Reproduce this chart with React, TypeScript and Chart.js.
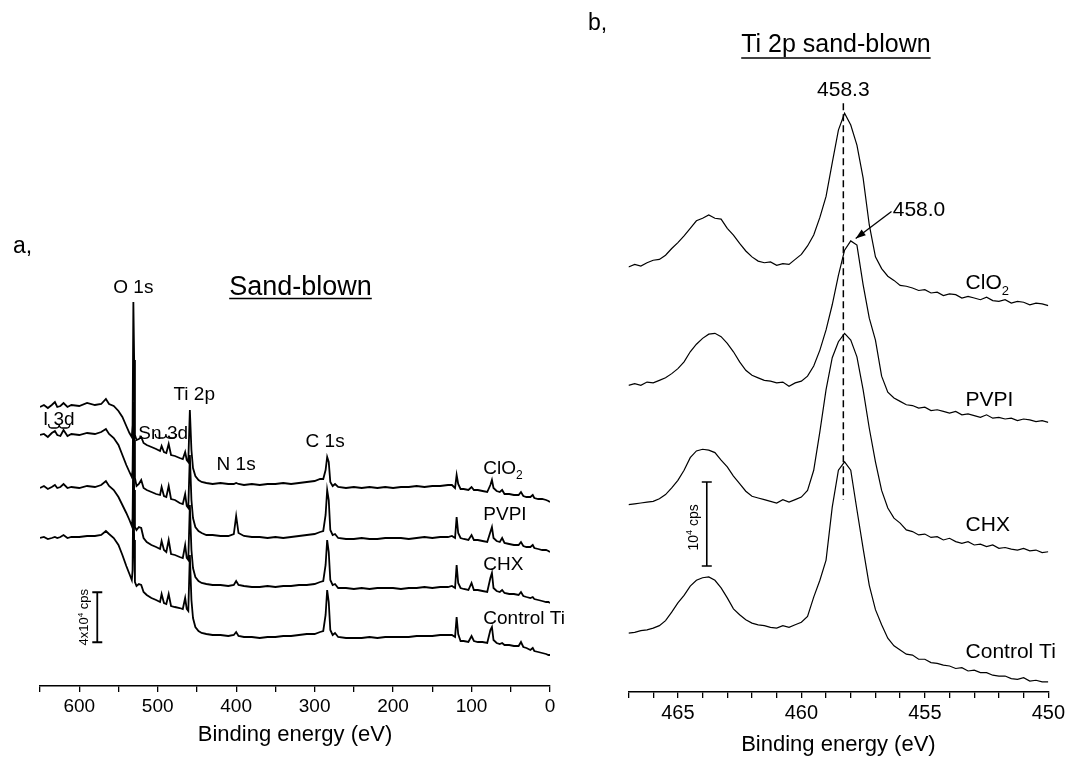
import React, { useEffect, useRef } from "react";
import { Chart, registerables } from "chart.js";

Chart.register(...registerables);

const FONT = "'Liberation Sans', Arial, Helvetica, sans-serif";

// ---------- Panel a: survey spectra (binding energy, eV) ----------
const surveyEnergy = [
  650, 645, 640, 635, 631, 628, 624, 620, 615, 610,
  600, 590, 580, 572, 566, 562, 556, 550, 545, 540,
  536, 533, 532, 531, 530, 529, 527, 524, 521, 518,
  514, 508, 502, 497, 495, 492, 489, 486, 483, 478,
  472, 468, 465, 463, 461, 459, 457, 455, 452, 448,
  444, 438, 430, 420, 410, 403, 400, 397, 390, 380,
  370, 360, 350, 340, 330, 320, 310, 300, 293, 289,
  286, 284, 282, 280, 277, 274, 270, 260, 250, 240,
  230, 220, 210, 200, 190, 180, 170, 160, 150, 140,
  130, 125, 121, 119, 117, 114, 110, 104, 100, 97,
  92, 86, 80, 76, 74, 72, 68, 64, 61, 58,
  52, 46, 40, 37, 34, 30, 25, 22, 20, 15,
  10, 5, 2, 0,
];

// intensities in 10^3 cps (stacked, offset as in the figure)
const surveyClO2 = [
  223.2, 224.8, 222.4, 224.8, 227.2, 223.2, 224.0, 226.4, 223.2, 224.8,
  224.0, 226.4, 224.8, 225.6, 229.6, 225.6, 224.0, 220.0, 215.2, 208.0,
  202.4, 199.2, 208.8, 307.2, 260.8, 200.8, 196.8, 197.6, 199.2, 194.4,
  192.8, 191.2, 189.6, 188.0, 192.0, 187.2, 186.4, 193.6, 184.8, 184.0,
  182.4, 181.6, 187.2, 180.8, 179.2, 220.8, 188.8, 174.4, 168.0, 164.8,
  163.2, 162.4, 161.6, 162.4, 161.6, 161.6, 162.4, 161.6, 160.8, 161.6,
  160.8, 161.6, 161.6, 162.4, 161.6, 162.4, 163.2, 164.0, 165.6, 165.6,
  172.8, 183.2, 179.2, 163.2, 160.0, 161.6, 159.2, 158.4, 159.2, 158.4,
  159.2, 158.4, 159.2, 158.4, 159.2, 159.2, 160.0, 159.2, 160.0, 160.0,
  160.8, 160.8, 158.4, 168.8, 161.6, 157.6, 157.6, 156.8, 159.2, 156.8,
  156.8, 156.0, 155.2, 160.8, 164.8, 158.4, 156.0, 155.2, 156.8, 153.6,
  153.6, 152.8, 152.8, 155.2, 152.0, 151.2, 151.2, 152.8, 150.4, 149.6,
  149.6, 148.8, 148.0, 147.2,
];

const surveyPVPI = [
  200.8, 201.6, 199.2, 202.4, 204.0, 200.8, 200.0, 204.8, 200.0, 201.6,
  200.8, 202.4, 201.6, 203.2, 205.6, 201.6, 198.4, 192.8, 184.8, 176.8,
  171.2, 167.2, 172.8, 227.2, 196.8, 166.4, 160.0, 161.6, 164.8, 158.4,
  156.8, 155.2, 153.6, 152.8, 159.2, 152.0, 151.2, 160.0, 149.6, 148.8,
  146.4, 145.6, 153.6, 144.0, 142.4, 184.8, 148.8, 134.4, 127.2, 124.0,
  122.4, 120.8, 120.8, 120.0, 120.0, 121.6, 136.0, 122.4, 120.0, 119.2,
  119.2, 118.4, 119.2, 118.4, 119.2, 120.0, 120.8, 121.6, 123.2, 124.0,
  136.8, 156.8, 148.8, 124.8, 120.8, 121.6, 118.4, 117.6, 117.6, 118.4,
  117.6, 117.6, 118.4, 118.4, 118.4, 117.6, 118.4, 119.2, 118.4, 119.2,
  119.2, 120.0, 118.4, 135.2, 122.4, 118.4, 117.6, 116.8, 120.8, 116.8,
  116.8, 116.0, 115.2, 123.2, 127.2, 118.4, 116.0, 115.2, 118.4, 114.4,
  113.6, 112.8, 112.8, 115.2, 112.0, 111.2, 111.2, 112.8, 110.4, 109.6,
  108.8, 108.8, 108.0, 107.2,
];

const surveyCHX = [
  158.4, 160.0, 157.6, 159.2, 160.8, 158.4, 159.2, 161.6, 158.4, 159.2,
  158.4, 160.0, 159.2, 160.8, 164.0, 160.0, 156.8, 151.2, 144.8, 138.4,
  132.8, 128.0, 134.4, 188.8, 156.8, 127.2, 124.8, 127.2, 126.4, 118.4,
  115.2, 112.8, 111.2, 109.6, 116.0, 108.8, 107.2, 116.8, 105.6, 104.8,
  103.2, 102.4, 112.8, 102.4, 100.8, 144.8, 108.8, 94.4, 87.2, 84.0,
  82.4, 81.6, 80.8, 80.8, 80.0, 80.8, 84.0, 80.8, 80.0, 79.2,
  79.2, 80.0, 79.2, 80.0, 80.0, 80.8, 80.8, 81.6, 83.2, 84.0,
  96.8, 116.8, 107.2, 84.8, 80.8, 81.6, 78.4, 78.4, 77.6, 78.4,
  77.6, 78.4, 78.4, 78.4, 77.6, 78.4, 78.4, 79.2, 78.4, 79.2,
  79.2, 80.0, 78.4, 96.8, 82.4, 78.4, 77.6, 76.8, 82.4, 76.8,
  76.8, 76.0, 75.2, 86.4, 90.4, 78.4, 76.0, 75.2, 76.8, 74.4,
  73.6, 73.6, 72.8, 75.2, 72.0, 71.2, 70.4, 71.2, 69.6, 68.8,
  68.0, 67.2, 67.2, 66.4,
];

const surveyControl = [
  118.4, 119.2, 117.6, 118.4, 119.2, 118.4, 119.2, 120.8, 118.4, 119.2,
  119.2, 120.0, 120.0, 120.8, 124.0, 121.6, 118.4, 112.8, 104.8, 96.0,
  89.6, 84.8, 92.8, 164.8, 116.8, 83.2, 80.0, 81.6, 80.8, 75.2,
  72.8, 70.4, 68.8, 67.2, 73.6, 66.4, 65.6, 73.6, 64.0, 63.2,
  62.4, 61.6, 70.4, 61.6, 60.0, 104.8, 68.8, 54.4, 47.2, 44.0,
  42.4, 41.6, 40.8, 40.8, 40.0, 40.8, 43.2, 40.0, 39.2, 39.2,
  38.4, 39.2, 39.2, 40.0, 40.0, 40.8, 41.6, 41.6, 43.2, 44.0,
  56.8, 76.8, 67.2, 44.8, 40.8, 42.4, 39.2, 38.4, 38.4, 38.4,
  39.2, 38.4, 39.2, 39.2, 39.2, 39.2, 40.0, 40.0, 40.0, 40.8,
  40.8, 40.8, 39.2, 55.2, 41.6, 36.0, 36.0, 35.2, 40.0, 36.0,
  35.2, 35.2, 34.4, 44.8, 47.2, 36.8, 34.4, 33.6, 34.4, 32.8,
  32.8, 32.0, 32.0, 35.2, 31.2, 30.4, 28.8, 30.4, 28.0, 27.2,
  26.4, 25.6, 24.8, 24.8,
];

const surveyTickLabels = ["600", "500", "400", "300", "200", "100", "0"];

// ---------- Panel b: Ti 2p high resolution ----------
const ti2pEnergy = [
  467, 466.75, 466.5, 466.25, 466, 465.75, 465.5, 465.25, 465, 464.75,
  464.5, 464.25, 464, 463.75, 463.5, 463.25, 463, 462.75, 462.5, 462.25,
  462, 461.75, 461.5, 461.25, 461, 460.75, 460.5, 460.25, 460, 459.75,
  459.5, 459.25, 459, 458.75, 458.5, 458.25, 458, 457.75, 457.5, 457.25,
  457, 456.75, 456.5, 456.25, 456, 455.75, 455.5, 455.25, 455, 454.75,
  454.5, 454.25, 454, 453.75, 453.5, 453.25, 453, 452.75, 452.5, 452.25,
  452, 451.75, 451.5, 451.25, 451, 450.75, 450.5, 450.25, 450,
];

const ti2pClO2 = [
  50.6, 50.9, 50.7, 51.1, 51.4, 51.5, 52.0, 52.8, 53.5, 54.3,
  55.2, 56.1, 56.4, 56.8, 56.4, 56.3, 55.2, 54.4, 53.4, 52.5,
  51.8, 51.3, 51.1, 51.2, 50.8, 51.0, 50.9, 51.5, 52.1, 53.1,
  54.4, 56.5, 59.0, 63.0, 66.9, 68.9, 67.5, 65.1, 61.2, 55.6,
  51.8, 50.4, 49.5, 49.0, 48.4, 48.3, 48.1, 47.8, 47.9, 47.5,
  47.6, 47.2, 47.4, 47.3, 46.9, 47.1, 46.9, 46.7, 47.0, 46.6,
  46.5, 46.7, 46.3, 46.5, 46.4, 46.1, 46.3, 46.2, 46.0,
];

const ti2pPVPI = [
  36.5, 36.7, 36.5, 36.9, 36.8, 37.1, 37.4, 37.9, 38.5, 39.3,
  40.5, 41.4, 42.1, 42.6, 42.7, 42.3, 41.5, 40.5, 39.3, 38.3,
  37.7, 37.4, 37.1, 37.0, 36.8, 36.9, 36.4, 36.8, 37.0, 37.6,
  38.8, 40.7, 43.1, 46.1, 49.6, 52.6, 53.7, 53.2, 48.5, 44.5,
  41.9, 37.6, 35.7, 35.0, 34.6, 34.2, 34.1, 33.8, 33.9, 33.5,
  33.6, 33.4, 33.2, 33.4, 33.0, 33.1, 32.9, 32.7, 33.0, 32.6,
  32.7, 32.5, 32.6, 32.3, 32.5, 32.4, 32.2, 32.3, 32.1,
];

const ti2pCHX = [
  22.3, 22.4, 22.5, 22.6, 22.7, 23.0, 23.5, 24.3, 25.2, 26.4,
  27.9, 28.7, 28.9, 28.8, 28.5, 27.6, 26.8, 25.7, 24.8, 23.9,
  23.3, 23.1, 22.9, 22.7, 22.5, 22.9, 22.6, 22.9, 23.2, 24.0,
  26.4, 31.0, 36.0, 39.8, 41.7, 42.7, 41.9, 39.9, 36.0, 31.4,
  27.4, 24.0, 21.9, 20.7, 20.1, 19.3, 19.1, 18.7, 18.8, 18.4,
  18.5, 18.1, 18.3, 17.9, 17.7, 17.9, 17.5, 17.6, 17.3, 17.5,
  17.1, 17.2, 17.0, 16.9, 17.1, 16.8, 16.9, 16.6, 16.7,
];

const ti2pControl = [
  7.0, 7.1, 7.3, 7.4, 7.6, 7.9, 8.5, 9.5, 10.6, 11.5,
  12.6, 13.3, 13.6, 13.7, 13.3, 12.4, 11.2, 9.9, 9.2, 8.6,
  8.2, 8.0, 7.9, 7.7, 7.6, 7.9, 7.7, 8.0, 8.3, 9.0,
  11.3, 13.3, 15.7, 22.0, 26.4, 27.4, 26.4, 21.7, 17.1, 12.7,
  9.8, 8.0, 6.4, 5.5, 5.0, 4.5, 4.4, 3.9, 3.9, 3.5,
  3.4, 3.2, 3.1, 2.8, 2.9, 2.5, 2.6, 2.3, 2.3, 2.0,
  1.9, 1.9, 1.6, 1.5, 1.7, 1.3, 1.4, 1.2, 1.2,
];

const ti2pTickLabels = ["465", "460", "455", "450"];

// ---------- drawing helpers ----------
type Part = { t: string; sub?: boolean; sup?: boolean };

function drawParts(
  ctx: CanvasRenderingContext2D,
  parts: Part[],
  x: number,
  y: number,
  size: number,
  align: "left" | "center"
) {
  const small = Math.round(size * 0.62);
  const widths: number[] = [];
  let total = 0;
  parts.forEach((p) => {
    ctx.font = `${p.sub || p.sup ? small : size}px ${FONT}`;
    const w = ctx.measureText(p.t).width;
    widths.push(w);
    total += w;
  });
  let cx = align === "center" ? x - total / 2 : x;
  const base = y + size * 0.36;
  ctx.textAlign = "left";
  ctx.textBaseline = "alphabetic";
  parts.forEach((p, i) => {
    ctx.font = `${p.sub || p.sup ? small : size}px ${FONT}`;
    const dy = p.sub ? size * 0.28 : p.sup ? -size * 0.4 : 0;
    ctx.fillText(p.t, cx, base + dy);
    cx += widths[i];
  });
  return total;
}

function drawRotated(
  ctx: CanvasRenderingContext2D,
  parts: Part[],
  x: number,
  y: number,
  size: number
) {
  ctx.save();
  ctx.translate(x, y);
  ctx.rotate(-Math.PI / 2);
  drawParts(ctx, parts, 0, 0, size, "center");
  ctx.restore();
}

function drawBrace(ctx: CanvasRenderingContext2D, x1: number, x2: number, y: number) {
  const xm = (x1 + x2) / 2;
  ctx.beginPath();
  ctx.moveTo(x1, y - 4);
  ctx.quadraticCurveTo(x1, y, x1 + 3, y);
  ctx.lineTo(xm - 3, y);
  ctx.quadraticCurveTo(xm, y, xm, y - 4);
  ctx.quadraticCurveTo(xm, y, xm + 3, y);
  ctx.lineTo(x2 - 3, y);
  ctx.quadraticCurveTo(x2, y, x2, y - 4);
  ctx.stroke();
}

function drawScaleBar(ctx: CanvasRenderingContext2D, x: number, y1: number, y2: number) {
  ctx.beginPath();
  ctx.moveTo(x, y1);
  ctx.lineTo(x, y2);
  ctx.moveTo(x - 5, y1);
  ctx.lineTo(x + 5, y1);
  ctx.moveTo(x - 5, y2);
  ctx.lineTo(x + 5, y2);
  ctx.stroke();
}

function underlinedTitle(
  ctx: CanvasRenderingContext2D,
  text: string,
  cx: number,
  cy: number,
  size: number,
  uy: number
) {
  ctx.font = `${size}px ${FONT}`;
  const w = ctx.measureText(text).width;
  drawParts(ctx, [{ t: text }], cx, cy, size, "center");
  ctx.beginPath();
  ctx.moveTo(cx - w / 2, uy);
  ctx.lineTo(cx + w / 2, uy);
  ctx.lineWidth = 1.6;
  ctx.stroke();
}

const surveyAnnotations = {
  id: "surveyAnnotations",
  afterDraw(chart: any) {
    const { ctx } = chart;
    const xs = chart.scales.x;
    const ys = chart.scales.y;
    const X = (e: number) => xs.getPixelForValue(e);
    const Y = (v: number) => ys.getPixelForValue(v);
    ctx.save();
    ctx.fillStyle = "#000";
    ctx.strokeStyle = "#000";
    drawParts(ctx, [{ t: "a," }], 13, 245, 23, "left");
    underlinedTitle(ctx, "Sand-blown", X(318), Y(320.5), 27, Y(310));
    drawParts(ctx, [{ t: "O 1s" }], X(531), Y(320), 19, "center");
    drawParts(ctx, [{ t: "Ti 2p" }], X(453.5), Y(234.4), 19, "center");
    drawParts(ctx, [{ t: "Sn 3d" }], X(493), Y(203.2), 19, "center");
    drawParts(ctx, [{ t: "I 3d" }], X(626), Y(214.4), 19, "center");
    drawParts(ctx, [{ t: "N 1s" }], X(400), Y(178.4), 19, "center");
    drawParts(ctx, [{ t: "C 1s" }], X(286.6), Y(196.8), 19, "center");
    ctx.lineWidth = 1.3;
    drawBrace(ctx, X(639), X(612), Y(206.4));
    drawBrace(ctx, X(503), X(476), Y(198.4));
    drawParts(ctx, [{ t: "ClO" }, { t: "2", sub: true }], X(85), Y(175.2), 19, "left");
    drawParts(ctx, [{ t: "PVPI" }], X(85), Y(138.4), 19, "left");
    drawParts(ctx, [{ t: "CHX" }], X(85), Y(98.4), 19, "left");
    drawParts(ctx, [{ t: "Control Ti" }], X(85), Y(55.2), 19, "left");
    ctx.lineWidth = 1.8;
    drawScaleBar(ctx, X(577), Y(35), Y(75));
    drawRotated(ctx, [{ t: "4x10" }, { t: "4", sup: true }, { t: " cps" }], X(595), Y(55), 13);
    ctx.restore();
  },
};

const ti2pAnnotations = {
  id: "ti2pAnnotations",
  afterDraw(chart: any) {
    const { ctx } = chart;
    const xs = chart.scales.x;
    const ys = chart.scales.y;
    const X = (e: number) => xs.getPixelForValue(e);
    const Y = (v: number) => ys.getPixelForValue(v);
    ctx.save();
    ctx.fillStyle = "#000";
    ctx.strokeStyle = "#000";
    drawParts(ctx, [{ t: "b," }], 18, 22, 23, "left");
    underlinedTitle(ctx, "Ti 2p sand-blown", X(458.6), 43, 25, 58);
    // dashed marker line at 458.3 eV
    ctx.lineWidth = 1.5;
    ctx.setLineDash([7, 4]);
    ctx.beginPath();
    ctx.moveTo(X(458.3), Y(70.1));
    ctx.lineTo(X(458.3), Y(22.9));
    ctx.stroke();
    ctx.setLineDash([]);
    drawParts(ctx, [{ t: "458.3" }], X(458.3), Y(71.8), 21, "center");
    drawParts(ctx, [{ t: "458.0" }], X(456.3), Y(57.6), 21, "left");
    // arrow to the shifted peak
    const x1 = X(456.35), y1 = Y(57.2), x2 = X(457.8), y2 = Y(54.0);
    ctx.lineWidth = 1.3;
    ctx.beginPath();
    ctx.moveTo(x1, y1);
    ctx.lineTo(x2, y2);
    ctx.stroke();
    const a = Math.atan2(y2 - y1, x2 - x1);
    ctx.beginPath();
    ctx.moveTo(x2, y2);
    ctx.lineTo(x2 - 10 * Math.cos(a) + 3.5 * Math.sin(a), y2 - 10 * Math.sin(a) - 3.5 * Math.cos(a));
    ctx.lineTo(x2 - 10 * Math.cos(a) - 3.5 * Math.sin(a), y2 - 10 * Math.sin(a) + 3.5 * Math.cos(a));
    ctx.closePath();
    ctx.fill();
    drawParts(ctx, [{ t: "ClO" }, { t: "2", sub: true }], X(453.35), Y(48.9), 21, "left");
    drawParts(ctx, [{ t: "PVPI" }], X(453.35), Y(35.0), 21, "left");
    drawParts(ctx, [{ t: "CHX" }], X(453.35), Y(20.1), 21, "left");
    drawParts(ctx, [{ t: "Control Ti" }], X(453.35), Y(5.0), 21, "left");
    ctx.lineWidth = 1.6;
    drawScaleBar(ctx, X(463.83), Y(15), Y(25));
    drawRotated(ctx, [{ t: "10" }, { t: "4", sup: true }, { t: " cps" }], X(464.4), Y(19.6), 14);
    ctx.restore();
  },
};

function series(xs: number[], ys: number[]) {
  return xs.map((x, i) => ({ x, y: ys[i] }));
}

function lineDataset(label: string, xs: number[], ys: number[], width: number) {
  return {
    label,
    data: series(xs, ys),
    borderColor: "#000",
    borderWidth: width,
    pointRadius: 0,
    tension: 0,
    fill: false,
  };
}

export default function App() {
  const refA = useRef<HTMLCanvasElement | null>(null);
  const refB = useRef<HTMLCanvasElement | null>(null);

  useEffect(() => {
    if (!refA.current || !refB.current) return;
    const tickFont = (size: number) => ({ size, family: FONT });

    const chartA = new Chart(refA.current, {
      type: "line",
      data: {
        datasets: [
          lineDataset("ClO2", surveyEnergy, surveyClO2, 1.8),
          lineDataset("PVPI", surveyEnergy, surveyPVPI, 1.8),
          lineDataset("CHX", surveyEnergy, surveyCHX, 1.8),
          lineDataset("Control Ti", surveyEnergy, surveyControl, 1.8),
        ],
      },
      options: {
        animation: false,
        responsive: false,
        maintainAspectRatio: false,
        layout: { padding: { left: 40, right: 20, top: 286, bottom: 0 } },
        plugins: { legend: { display: false }, tooltip: { enabled: false }, title: { display: false } },
        scales: {
          x: {
            type: "linear",
            min: 0,
            max: 650,
            reverse: true,
            ticks: {
              stepSize: 50,
              autoSkip: false,
              maxRotation: 0,
              color: "#000",
              font: tickFont(19),
              padding: 3,
              callback: (v: any) => {
                const n = Number(v);
                return n % 100 === 0 && surveyTickLabels.includes(String(n)) ? String(n) : "";
              },
            },
            grid: { display: true, drawOnChartArea: false, drawTicks: true, tickLength: 6, color: "#000", lineWidth: 1.3 },
            border: { display: true, color: "#000", width: 1.5 },
            title: { display: true, text: "Binding energy (eV)", color: "#000", font: { size: 22, family: FONT }, padding: { top: 0, bottom: 10 } },
            afterFit: (s: any) => {
              s.height = 72;
            },
          },
          y: { display: false, min: 0, max: 320 },
        },
      },
      plugins: [surveyAnnotations],
    } as any);

    const chartB = new Chart(refB.current, {
      type: "line",
      data: {
        datasets: [
          lineDataset("ClO2", ti2pEnergy, ti2pClO2, 1.2),
          lineDataset("PVPI", ti2pEnergy, ti2pPVPI, 1.2),
          lineDataset("CHX", ti2pEnergy, ti2pCHX, 1.2),
          lineDataset("Control Ti", ti2pEnergy, ti2pControl, 1.2),
        ],
      },
      options: {
        animation: false,
        responsive: false,
        maintainAspectRatio: false,
        layout: { padding: { left: 58.5, right: 19, top: 104, bottom: 0 } },
        plugins: { legend: { display: false }, tooltip: { enabled: false }, title: { display: false } },
        scales: {
          x: {
            type: "linear",
            min: 450,
            max: 467,
            reverse: true,
            ticks: {
              stepSize: 1,
              autoSkip: false,
              maxRotation: 0,
              color: "#000",
              font: tickFont(20),
              padding: 3,
              callback: (v: any) => {
                const n = Number(v);
                return ti2pTickLabels.includes(String(n)) ? String(n) : "";
              },
            },
            grid: { display: true, drawOnChartArea: false, drawTicks: true, tickLength: 6, color: "#000", lineWidth: 1.3 },
            border: { display: true, color: "#000", width: 1.5 },
            title: { display: true, text: "Binding energy (eV)", color: "#000", font: { size: 22, family: FONT }, padding: { top: 0, bottom: 0 } },
            afterFit: (s: any) => {
              s.height = 66;
            },
          },
          y: { display: false, min: 0, max: 70 },
        },
      },
      plugins: [ti2pAnnotations],
    } as any);

    return () => {
      chartA.destroy();
      chartB.destroy();
    };
  }, []);

  return (
    <div style={{ position: "absolute", left: 0, top: 0, width: 1068, height: 758, background: "#fff", overflow: "hidden" }}>
      <canvas ref={refA} width={570} height={758} style={{ position: "absolute", left: 0, top: 0, width: 570, height: 758 }} />
      <canvas ref={refB} width={498} height={758} style={{ position: "absolute", left: 570, top: 0, width: 498, height: 758 }} />
    </div>
  );
}
